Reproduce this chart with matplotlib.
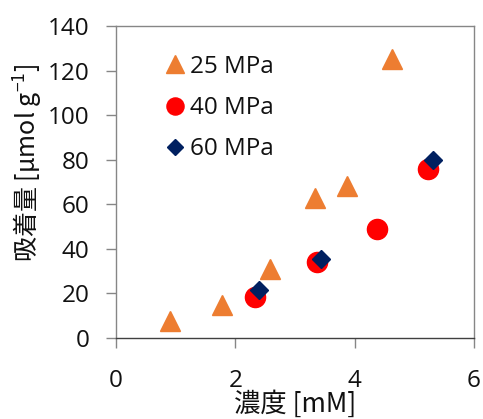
import matplotlib
matplotlib.use("Agg")
import matplotlib.pyplot as plt

plt.rcParams['font.family'] = ['Open Sans', 'Noto Sans CJK JP', 'DejaVu Sans']

x25 = [0.91, 1.77, 2.58, 3.34, 3.87, 4.62]
y25 = [7.5, 15, 31, 63, 68, 125]
x40 = [2.33, 3.37, 4.37, 5.23]
y40 = [18.2, 34, 49, 76]
x60 = [2.39, 3.44, 5.32]
y60 = [21.4, 35.5, 79.7]
labels = ['25 MPa', '40 MPa', '60 MPa']
xticks = [0, 2, 4, 6]
yticks = [0, 20, 40, 60, 80, 100, 120, 140]

fig = plt.figure(figsize=(4.83, 4.19), dpi=100)
ax = fig.add_axes([116/483, 1-338/419, (474-116)/483, (338-26)/419])

ax.plot(x25, y25, linestyle='none', marker='^', markersize=14.5, color='#ED7D31', label=labels[0])
ax.plot(x40, y40, linestyle='none', marker='o', markersize=14.5, color='#FF0000', label=labels[1])
ax.plot(x60, y60, linestyle='none', marker='D', markersize=9.2, color='#002060', label=labels[2])

ax.set_xlim(0, 6)
ax.set_ylim(0, 140)
ax.set_xticks(xticks)
ax.set_yticks(yticks)
ax.tick_params(axis='both', labelsize=17.5, color='#868686', width=1, length=7, labelcolor='#111111')
ax.tick_params(axis='x', pad=15)
ax.tick_params(axis='y', pad=12)
for s in ['left', 'top', 'right']:
    ax.spines[s].set_color('#868686')
    ax.spines[s].set_linewidth(1)
ax.spines['bottom'].set_color('#404040')
ax.spines['bottom'].set_linewidth(1)

fig.text(295/483, 1/419, '濃度 [mM]', ha='center', va='bottom', fontsize=19,
         family='Noto Sans CJK JP', color='#111111')
fig.text(28/483, 1-163/419, '吸着量 [μmol g$^{\\mathregular{-1}}$]', ha='center', va='center',
         rotation=90, fontsize=18, family='Noto Sans CJK JP', color='#111111')

leg = ax.legend(loc='upper left', bbox_to_anchor=(165/483, 1-55/419), bbox_transform=fig.transFigure,
                frameon=False, fontsize=17.5, markerscale=0.85, handlelength=0.8, handletextpad=0.23,
                labelspacing=0.7, borderpad=0, borderaxespad=0)
for t in leg.get_texts():
    t.set_color('#111111')

fig.savefig('out.png', dpi=100)
